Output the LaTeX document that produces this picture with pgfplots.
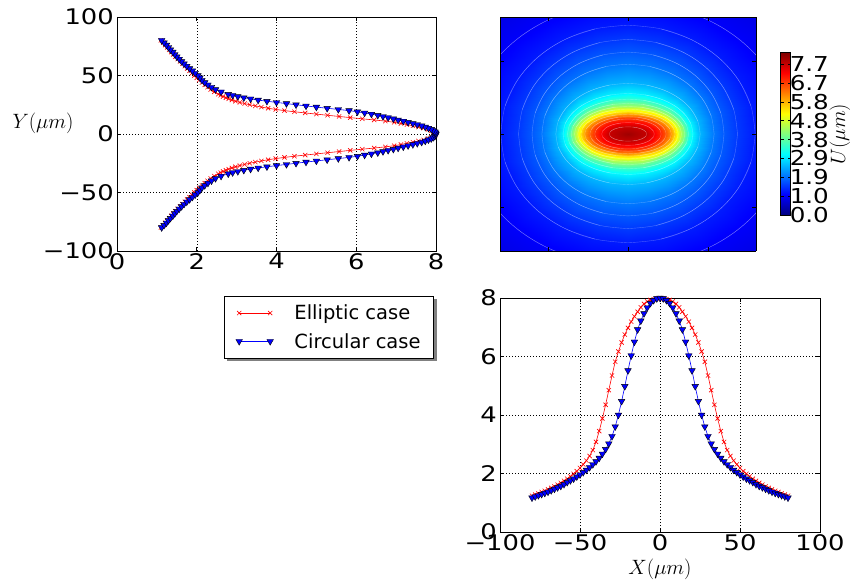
\documentclass[border=0pt]{standalone}
\usepackage{fontspec}
\setmainfont{DejaVu Sans}
\newfontfamily\tickfont{DejaVu Sans}[FakeStretch=1.2]
\usepackage{pgfplots}
\pgfplotsset{compat=1.18}
\usepackage{pgfplotstable}
\pgfdeclarelayer{bg}
\pgfsetlayers{bg,main}

% profiles along Y (top-left panel): Y, circular U, elliptic U
\pgfplotstableread{
Y Uc Ue
-80 1.12 1.10
-78 1.18 1.16
-76 1.24 1.21
-74 1.29 1.26
-72 1.34 1.31
-70 1.40 1.36
-68 1.45 1.41
-66 1.50 1.46
-64 1.56 1.52
-62 1.62 1.58
-60 1.68 1.64
-58 1.75 1.70
-56 1.82 1.76
-54 1.89 1.82
-52 1.96 1.88
-50 2.03 1.94
-48 2.08 2.00
-46 2.13 2.06
-44 2.20 2.13
-42 2.28 2.20
-40 2.37 2.27
-38 2.47 2.35
-36 2.61 2.44
-34 2.79 2.54
-33 2.90 2.60
-32 3.03 2.66
-31 3.18 2.73
-30 3.35 2.80
-29 3.54 2.88
-28 3.76 2.97
-27 4.00 3.08
-26 4.25 3.20
-25 4.49 3.33
-24 4.74 3.47
-23 5.00 3.62
-22 5.27 3.79
-21 5.55 3.98
-20 5.82 4.20
-19 6.03 4.45
-18 6.21 4.72
-17 6.38 5.00
-16 6.54 5.28
-15 6.67 5.57
-14 6.80 5.85
-13 6.93 6.15
-12 7.05 6.45
-11 7.18 6.73
-10 7.30 6.95
-9 7.42 7.12
-8 7.53 7.27
-7 7.64 7.42
-6 7.73 7.56
-5 7.81 7.69
-4 7.88 7.80
-3 7.93 7.88
-2 7.97 7.94
-1 7.99 7.98
0 8.00 8.00
1 7.99 7.98
2 7.97 7.94
3 7.93 7.88
4 7.88 7.80
5 7.81 7.69
6 7.73 7.56
7 7.64 7.42
8 7.53 7.27
9 7.42 7.12
10 7.30 6.95
11 7.18 6.73
12 7.05 6.45
13 6.93 6.15
14 6.80 5.85
15 6.67 5.57
16 6.54 5.28
17 6.38 5.00
18 6.21 4.72
19 6.03 4.45
20 5.82 4.20
21 5.55 3.98
22 5.27 3.79
23 5.00 3.62
24 4.74 3.47
25 4.49 3.33
26 4.25 3.20
27 4.00 3.08
28 3.76 2.97
29 3.54 2.88
30 3.35 2.80
31 3.18 2.73
32 3.03 2.66
33 2.90 2.60
34 2.79 2.54
36 2.61 2.44
38 2.47 2.35
40 2.37 2.27
42 2.28 2.20
44 2.20 2.13
46 2.13 2.06
48 2.08 2.00
50 2.03 1.94
52 1.96 1.88
54 1.89 1.82
56 1.82 1.76
58 1.75 1.70
60 1.68 1.64
62 1.62 1.58
64 1.56 1.52
66 1.50 1.46
68 1.45 1.41
70 1.40 1.36
72 1.34 1.31
74 1.29 1.26
76 1.24 1.21
78 1.18 1.16
80 1.12 1.10
}\topdata

% profiles along X (bottom-right panel): X, circular U, elliptic U
\pgfplotstableread{
X Uc Ue
-80 1.17 1.24
-78 1.21 1.28
-76 1.25 1.32
-74 1.29 1.37
-72 1.33 1.41
-70 1.37 1.46
-68 1.42 1.51
-66 1.47 1.56
-64 1.52 1.62
-62 1.57 1.68
-60 1.63 1.75
-58 1.70 1.82
-56 1.76 1.90
-54 1.82 1.99
-52 1.89 2.08
-50 1.96 2.19
-48 2.04 2.31
-46 2.12 2.44
-44 2.21 2.60
-42 2.31 2.80
-40 2.41 3.08
-38 2.53 3.45
-36 2.67 3.88
-34 2.83 4.35
-32 3.02 4.85
-30 3.27 5.35
-28 3.60 5.82
-26 4.00 6.17
-24 4.47 6.48
-22 4.98 6.75
-20 5.52 6.98
-18 6.03 7.19
-16 6.50 7.37
-14 6.92 7.53
-12 7.22 7.68
-10 7.47 7.80
-8 7.67 7.88
-6 7.82 7.93
-4 7.92 7.96
-2 7.98 7.99
0 8.00 8.00
2 7.98 7.99
4 7.92 7.96
6 7.82 7.93
8 7.67 7.88
10 7.47 7.80
12 7.22 7.68
14 6.92 7.53
16 6.50 7.37
18 6.03 7.19
20 5.52 6.98
22 4.98 6.75
24 4.47 6.48
26 4.00 6.17
28 3.60 5.82
30 3.27 5.35
32 3.02 4.85
34 2.83 4.35
36 2.67 3.88
38 2.53 3.45
40 2.41 3.08
42 2.31 2.80
44 2.21 2.60
46 2.12 2.44
48 2.04 2.31
50 1.96 2.19
52 1.89 2.08
54 1.82 1.99
56 1.76 1.90
58 1.70 1.82
60 1.63 1.75
62 1.57 1.68
64 1.52 1.62
66 1.47 1.56
68 1.42 1.51
70 1.37 1.46
72 1.33 1.41
74 1.29 1.37
76 1.25 1.32
78 1.21 1.28
80 1.17 1.24
}\botdata

% elliptic field, one quadrant: level curves (7 points each) of U
\pgfplotstableread{
x y u
0 0 8.0
0 0 8.0
0 0 8.0
0 0 8.0
0 0 8.0
0 0 8.0
0 0 8.0
11.70 0 7.7
11.30 1.27 7.7
10.13 2.45 7.7
8.27 3.46 7.7
5.85 4.24 7.7
3.03 4.73 7.7
0 4.90 7.7
16.40 0 7.3
15.84 2.02 7.3
14.20 3.90 7.3
11.60 5.52 7.3
8.20 6.75 7.3
4.24 7.53 7.3
0 7.80 7.3
20.70 0 6.9
19.99 2.64 6.9
17.93 5.10 6.9
14.64 7.21 6.9
10.35 8.83 6.9
5.36 9.85 6.9
0 10.20 6.9
23.80 0 6.5
22.99 3.05 6.5
20.61 5.90 6.5
16.83 8.34 6.5
11.90 10.22 6.5
6.16 11.40 6.5
0 11.80 6.5
27.00 0 6.0
26.08 3.49 6.0
23.38 6.75 6.0
19.09 9.55 6.0
13.50 11.69 6.0
6.99 13.04 6.0
0 13.50 6.0
29.40 0 5.5
28.40 3.93 5.5
25.46 7.60 5.5
20.79 10.75 5.5
14.70 13.16 5.5
7.61 14.68 5.5
0 15.20 5.5
31.40 0 5.0
30.33 4.40 5.0
27.19 8.50 5.0
22.20 12.02 5.0
15.70 14.72 5.0
8.13 16.42 5.0
0 17.00 5.0
33.40 0 4.5
32.26 4.87 4.5
28.92 9.40 4.5
23.62 13.29 4.5
16.70 16.28 4.5
8.64 18.16 4.5
0 18.80 4.5
35.50 0 4.0
34.29 5.41 4.0
30.74 10.45 4.0
25.10 14.78 4.0
17.75 18.10 4.0
9.19 20.19 4.0
0 20.90 4.0
37.80 0 3.5
36.51 6.16 3.5
32.73 11.90 3.5
26.73 16.83 3.5
18.90 20.61 3.5
9.78 22.99 3.5
0 23.80 3.5
40.60 0 3.0
39.22 7.17 3.0
35.16 13.85 3.0
28.71 19.59 3.0
20.30 23.99 3.0
10.51 26.76 3.0
0 27.70 3.0
45.10 0 2.5
43.56 8.95 2.5
39.06 17.30 2.5
31.89 24.47 2.5
22.55 29.96 2.5
11.67 33.42 2.5
0 34.60 2.5
53.80 0 2.0
51.97 12.34 2.0
46.59 23.85 2.0
38.04 33.73 2.0
26.90 41.31 2.0
13.92 46.07 2.0
0 47.70 2.0
60.00 0 1.75
57.95 14.49 1.75
51.96 28.00 1.75
42.43 39.60 1.75
30.00 48.50 1.75
15.53 54.09 1.75
0 56.00 1.75
68.40 0 1.5
66.07 16.74 1.5
59.23 32.35 1.5
48.37 45.75 1.5
34.20 56.03 1.5
17.70 62.49 1.5
0 64.70 1.5
79.50 0 1.25
76.79 19.25 1.25
68.85 37.20 1.25
56.21 52.61 1.25
39.75 64.43 1.25
20.57 71.86 1.25
0 74.40 1.25
100.00 0 1.0
96.59 23.29 1.0
86.60 45.00 1.0
70.71 63.64 1.0
50.00 77.94 1.0
25.88 86.93 1.0
0 90.00 1.0
125.00 0 0.8
120.74 28.99 0.8
108.25 56.00 0.8
88.39 79.20 0.8
62.50 96.99 0.8
32.35 108.18 0.8
0 112.00 0.8
160.00 0 0.6
154.54 37.53 0.6
138.56 72.50 0.6
113.14 102.53 0.6
80.00 125.57 0.6
41.41 140.06 0.6
0 145.00 0.6
}\heat

\begin{document}
\begin{tikzpicture}
\useasboundingbox (0,0) rectangle (850pt,584pt);
\pgfplotsset{
  mpl/.style={
    scale only axis,
    axis line style={line width=0.8pt},
    tick align=inside,
    tick pos=both,
    major tick length=4pt,
    every tick/.style={black, line width=0.6pt},
    grid=major,
    major grid style={black, line width=0.5pt, dash pattern=on 1pt off 2pt},
    ticklabel style={font=\tickfont\fontsize{21.5}{22}\selectfont},
    xticklabel style={inner sep=1pt, yshift=-1pt},
    yticklabel style={inner sep=1pt, xshift=-2pt},
  },
  ell/.style={red, line width=0.6pt, mark=x, mark size=3pt,
    mark options={solid, red, line width=0.6pt}},
  cir/.style={blue, line width=0.6pt, mark=triangle*, mark size=3.8pt,
    mark options={solid, rotate=180, fill=blue, draw=black, line width=0.4pt}},
  ring/.style={white, opacity=0.28, line width=0.4pt, smooth, tension=0.6,
    unbounded coords=jump, forget plot},
  fld/.style={surf, shader=interp, mesh/cols=7, point meta=z},
}

% top-left: Y profiles
\begin{axis}[mpl, at={(117pt,333pt)}, anchor=south west, width=319pt, height=234pt,
  xmin=0, xmax=8, ymin=-100, ymax=100,
  xtick={0,2,4,6,8}, xticklabels={0,2,4,6,8},
  ytick={-100,-50,0,50,100}, yticklabels={−100,−50,0,50,100},
  legend cell align=left,
  legend image code/.code={\draw[#1] plot coordinates {(0pt,0pt) (31pt,0pt)};},
  legend style={name=leg, at={(0.9937,-0.1923)}, anchor=north east, draw=black, fill=white,
    line width=0.8pt, font=\fontsize{19.5}{22}\selectfont,
    inner xsep=11pt, inner ysep=6.5pt, row sep=8pt,
    nodes={inner sep=2pt},
    /tikz/every odd column/.style={column sep=19pt}},
]
\addplot[ell] table[x=Ue, y=Y] {\topdata};
\addlegendentry{Elliptic case}
\addplot[cir] table[x=Uc, y=Y] {\topdata};
\addlegendentry{Circular case}
\end{axis}
\begin{pgfonlayer}{bg}
\fill[black!50] ([xshift=3pt,yshift=-3pt]leg.south west) rectangle ([xshift=3pt,yshift=-3pt]leg.north east);
\end{pgfonlayer}

% top-right: field map
\begin{axis}[at={(500pt,333pt)}, anchor=south west, scale only axis,
  width=256pt, height=234pt, view={0}{90},
  xmin=-80, xmax=80, ymin=-80, ymax=80, zmin=0, zmax=9,
  xtick={-50,0,50}, ytick={-50,0,50}, ztick=\empty,
  xticklabels={}, yticklabels={},
  tick align=inside, major tick length=4pt,
  every tick/.style={black, line width=0.6pt},
  axis line style={line width=0.8pt},
  axis on top,
  colormap/jet, point meta min=0, point meta max=8.26,
  colorbar,
  colorbar style={at={(parent axis.north east)}, anchor=north west,
    xshift=16pt, yshift=-35.7pt, width=10pt, height=162.3pt,
    ytick={0,0.96,1.92,2.88,3.84,4.80,5.76,6.72,7.68},
    yticklabels={0.0,1.0,1.9,2.9,3.8,4.8,5.8,6.7,7.7},
    yticklabel style={font=\tickfont\fontsize{20.5}{21}\selectfont, inner sep=0pt, xshift=-1pt},
    major tick length=3pt, tick align=inside,
    axis line style={line width=0.8pt}},
]
\addplot3[fld] table[x=x, y=y, z=u] {\heat};
\addplot3[fld] table[x expr=-\thisrow{x}, y=y, z=u] {\heat};
\addplot3[fld] table[x=x, y expr=-\thisrow{y}, z=u] {\heat};
\addplot3[fld] table[x expr=-\thisrow{x}, y expr=-\thisrow{y}, z=u] {\heat};
% faint level lines
\addplot[ring, restrict expr to domain={\thisrow{y}}{0.01:1000}] table[x=x, y=y] {\heat};
\addplot[ring, restrict expr to domain={\thisrow{x}}{0.01:1000}] table[x=x, y=y] {\heat};
\addplot[ring, restrict expr to domain={\thisrow{y}}{0.01:1000}] table[x expr=-\thisrow{x}, y=y] {\heat};
\addplot[ring, restrict expr to domain={\thisrow{x}}{0.01:1000}] table[x expr=-\thisrow{x}, y=y] {\heat};
\addplot[ring, restrict expr to domain={\thisrow{y}}{0.01:1000}] table[x=x, y expr=-\thisrow{y}] {\heat};
\addplot[ring, restrict expr to domain={\thisrow{x}}{0.01:1000}] table[x=x, y expr=-\thisrow{y}] {\heat};
\addplot[ring, restrict expr to domain={\thisrow{y}}{0.01:1000}] table[x expr=-\thisrow{x}, y expr=-\thisrow{y}] {\heat};
\addplot[ring, restrict expr to domain={\thisrow{x}}{0.01:1000}] table[x expr=-\thisrow{x}, y expr=-\thisrow{y}] {\heat};
\end{axis}

% bottom-right: X profiles
\begin{axis}[mpl, at={(500pt,52pt)}, anchor=south west, width=320pt, height=234pt,
  xmin=-100, xmax=100, ymin=0, ymax=8,
  xtick={-100,-50,0,50,100}, xticklabels={−100,−50,0,50,100},
  ytick={0,2,4,6,8}, yticklabels={0,2,4,6,8},
]
\addplot[ell] table[x=X, y=Ue] {\botdata};
\addplot[cir] table[x=X, y=Uc] {\botdata};
\end{axis}

\node at (43pt,461pt) {\fontsize{20}{24}\selectfont $Y(\mu m)$};
\node at (660pt,14.5pt) {\fontsize{20}{24}\selectfont $X(\mu m)$};
\node[rotate=90] at (840pt,450pt) {\fontsize{20}{24}\selectfont $U(\mu m)$};
\end{tikzpicture}
\end{document}
